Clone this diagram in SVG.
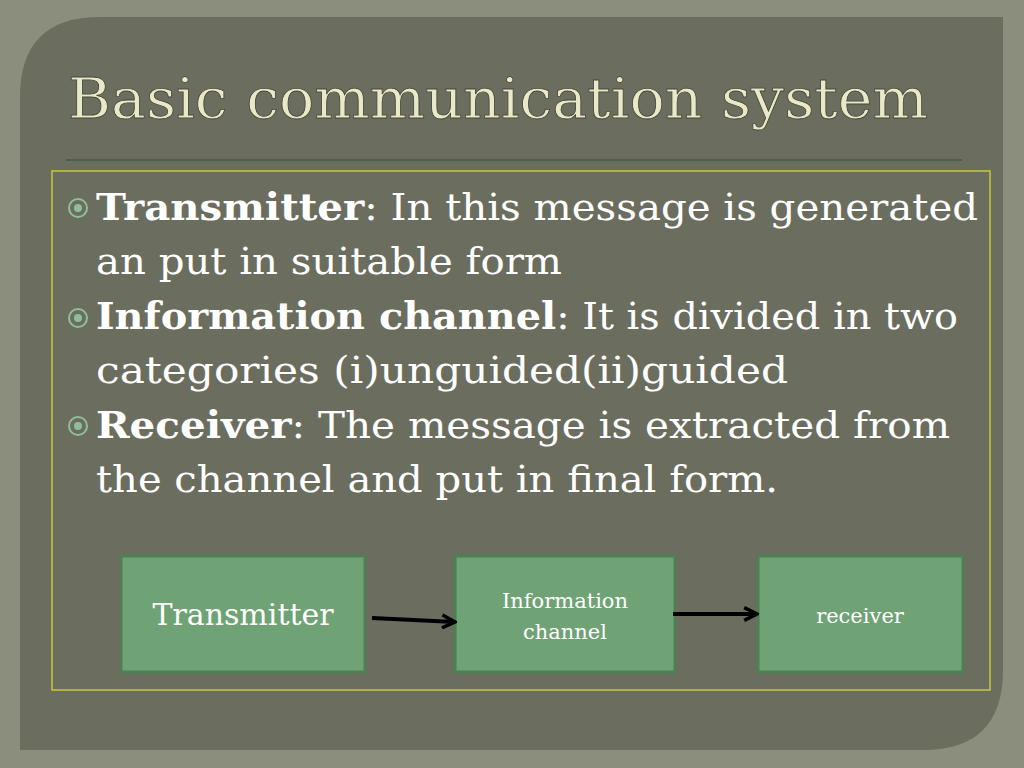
<svg xmlns="http://www.w3.org/2000/svg" width="1024" height="768" viewBox="0 0 1024 768">
<defs>
<style>
.t{font-family:"DejaVu Serif","Liberation Serif",serif;fill:#ffffff;font-size:38px}
.b{font-weight:bold}
.box{fill:#6fa274;stroke:#4f7f55;stroke-width:3}
.bl{font-family:"DejaVu Serif","Liberation Serif",serif;fill:#ffffff;text-anchor:middle}
.c{stroke:#000;stroke-width:4;fill:none;marker-end:url(#ah)}
</style>
<marker id="ah" viewBox="0 0 10 10" refX="9" refY="5" markerWidth="4" markerHeight="4" orient="auto"><path d="M1,1 L9,5 L1,9" fill="none" stroke="#000" stroke-width="2.2"/></marker>
</defs>
<rect width="1024" height="768" fill="#8b8d7d"/>
<path d="M100,17 H1003 V670 Q1003,750 923,750 H20 V97 Q20,17 100,17 Z" fill="#6b6d5e"/>
<text x="68" y="118" font-family="DejaVu Serif,serif" font-size="56" fill="#e9e9c8" stroke="#44463a" stroke-width="0.8" textLength="860" lengthAdjust="spacingAndGlyphs">Basic communication system</text>
<line x1="66" y1="160" x2="962" y2="160" stroke="#4d5e4a" stroke-width="2"/>
<rect x="52" y="171" width="938" height="519" fill="none" stroke="#c8c83a" stroke-width="1.5"/>
<g fill="none" stroke="#8fbf9a" stroke-width="2">
<circle cx="78" cy="208" r="9"/><circle cx="78" cy="318" r="9"/><circle cx="78" cy="426" r="9"/>
</g>
<g fill="#8fbf9a"><circle cx="78" cy="208" r="4"/><circle cx="78" cy="318" r="4"/><circle cx="78" cy="426" r="4"/></g>
<text class="t" x="96" y="220" textLength="882" lengthAdjust="spacingAndGlyphs"><tspan class="b">Transmitter</tspan>: In this message is generated</text>
<text class="t" x="96" y="274" textLength="466" lengthAdjust="spacingAndGlyphs">an put in suitable form</text>
<text class="t" x="96" y="329" textLength="862" lengthAdjust="spacingAndGlyphs"><tspan class="b">Information channel</tspan>: It is divided in two</text>
<text class="t" x="96" y="383" textLength="692" lengthAdjust="spacingAndGlyphs">categories (i)unguided(ii)guided</text>
<text class="t" x="96" y="438" textLength="854" lengthAdjust="spacingAndGlyphs"><tspan class="b">Receiver</tspan>: The message is extracted from</text>
<text class="t" x="96" y="492" textLength="682" lengthAdjust="spacingAndGlyphs">the channel and put in final form.</text>
<g id="n1"><rect class="box" x="121" y="556" width="244" height="116"/><text class="bl" x="243" y="625" font-size="30">Transmitter</text></g>
<g id="n2"><rect class="box" x="455" y="556" width="220" height="116"/><text class="bl" x="565" y="608" font-size="21">Information</text><text class="bl" x="565" y="639" font-size="21">channel</text></g>
<g id="n3"><rect class="box" x="758" y="556" width="205" height="116"/><text class="bl" x="860" y="623" font-size="21">receiver</text></g>
<g id="connectors">
<line class="c" x1="372" y1="618" x2="455" y2="622"/>
<line class="c" x1="673" y1="614" x2="757" y2="614"/>
</g>
</svg>
